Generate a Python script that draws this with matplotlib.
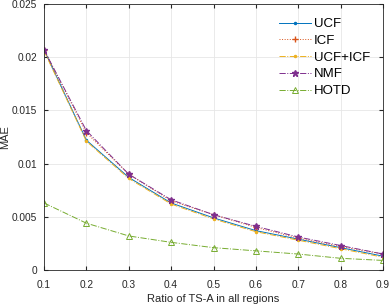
import matplotlib
matplotlib.use('Agg')
import matplotlib.pyplot as plt

plt.rcParams['font.family'] = ['Liberation Sans', 'DejaVu Sans']

ratio = [0.1, 0.2, 0.3, 0.4, 0.5, 0.6, 0.7, 0.8, 0.9]
ucf = [0.0207, 0.0122, 0.0087, 0.0063, 0.0049, 0.0037, 0.0029, 0.0021, 0.0013]
icf = [0.0207, 0.0129, 0.0090, 0.0065, 0.0052, 0.0040, 0.0030, 0.0022, 0.0015]
ucf_icf = [0.0206, 0.0121, 0.0086, 0.0062, 0.0048, 0.0036, 0.0028, 0.0020, 0.0012]
nmf = [0.0207, 0.0131, 0.0090, 0.0066, 0.0052, 0.0041, 0.0031, 0.0023, 0.0015]
hotd = [0.0063, 0.0044, 0.0032, 0.0026, 0.0021, 0.0018, 0.0015, 0.0011, 0.0009]

W, H = 390, 305
fig = plt.figure(figsize=(W / 100, H / 100), dpi=100)
ax = fig.add_axes([44 / W, 1 - 270 / H, 339 / W, 266 / H])

ax.plot(ratio, ucf, '-', color='#0072BD', marker='.', ms=3, lw=0.7, label='UCF')
ax.plot(ratio, icf, ':', color='#D95319', marker='+', ms=5, lw=0.7, label='ICF')
ax.plot(ratio, ucf_icf, '-.', color='#EDB120', marker='.', ms=3, lw=0.7, label='UCF+ICF')
ax.plot(ratio, nmf, '-.', color='#7E2F8E', marker='*', ms=5, lw=0.7, label='NMF')
ax.plot(ratio, hotd, '-.', color='#77AC30', marker='^', ms=5, mfc='none', mew=0.7, lw=0.7, label='HOTD')

ax.set_xlim(0.1, 0.9)
ax.set_ylim(0, 0.025)
ax.set_xticks(ratio)
ax.set_xticklabels(['0.1', '0.2', '0.3', '0.4', '0.5', '0.6', '0.7', '0.8', '0.9'])
ax.set_yticks([0, 0.005, 0.01, 0.015, 0.02, 0.025])
ax.set_yticklabels(['0', '0.005', '0.01', '0.015', '0.02', '0.025'])
ax.grid(True, color='#e6e6e6', lw=0.6)
ax.set_axisbelow(True)
ax.tick_params(direction='in', labelsize=7.3, colors='#262626', length=3, pad=5,
               top=True, right=True)
ax.tick_params(axis='x', pad=7)
for s in ax.spines.values():
    s.set_color('#262626')
    s.set_linewidth(0.6)
ax.set_xlabel('Ratio of TS-A in all regions', fontsize=8, color='#262626', labelpad=3)
ax.set_ylabel('MAE', fontsize=8, color='#262626', labelpad=1)
ax.legend(loc='upper left', frameon=False, fontsize=9.5, handlelength=2.4,
          bbox_to_anchor=(279 / W, 1 - 18 / H), bbox_transform=fig.transFigure,
          borderpad=0, borderaxespad=0, labelspacing=0.34, handletextpad=0.25)

fig.savefig('out.png', dpi=100)
